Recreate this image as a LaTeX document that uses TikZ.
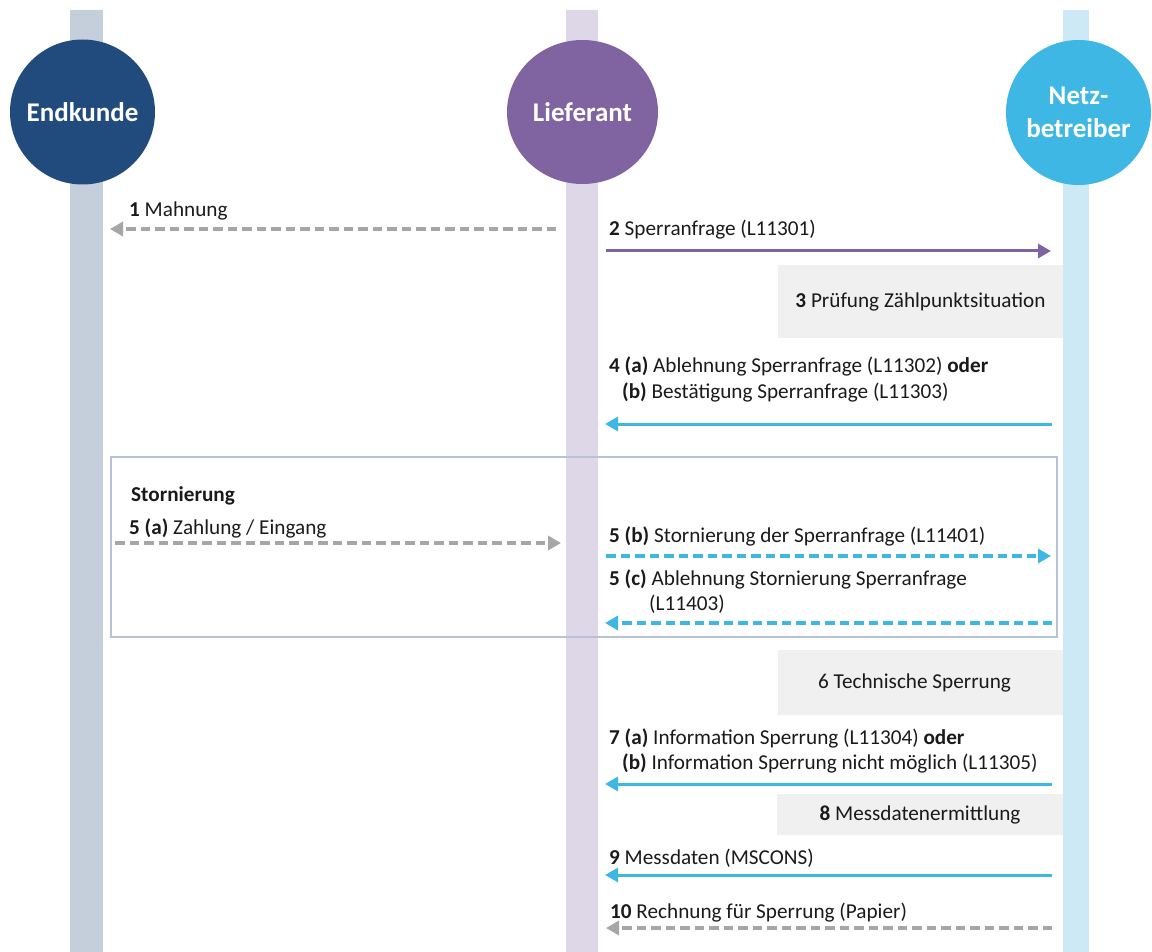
\documentclass[tikz,border=0pt]{standalone}
\usepackage{fontspec}
\setmainfont{Carlito}
\usetikzlibrary{arrows.meta,shapes.geometric}
\definecolor{ekdark}{HTML}{214B7C}
\definecolor{lfpurple}{HTML}{8064A2}
\definecolor{nbblue}{HTML}{3FB7E4}
\definecolor{ekbar}{HTML}{C5CFDC}
\definecolor{lfbar}{HTML}{DED7E8}
\definecolor{nbbar}{HTML}{CDE9F5}
\definecolor{arrgrey}{HTML}{A6A6A6}
\definecolor{boxgrey}{HTML}{F0F0F0}
\definecolor{framecol}{HTML}{B7C2D4}
\definecolor{txt}{HTML}{1A1A1A}
\tikzset{
  x=1pt, y=-1pt,
  actor/.style={circle, minimum size=145pt, inner sep=0pt, text=white,
    font=\fontsize{27}{33}\selectfont\bfseries, align=center},
  lbl/.style={anchor=base west, inner sep=0pt, text=txt, font=\fontsize{21.2}{25}\selectfont},
  stepbox/.style={fill=boxgrey, draw=none},
  msg/.style={line width=3pt, -{Triangle[length=13pt,width=14pt]}},
  dmsg/.style={msg, line width=3.5pt, dash pattern=on 9.5pt off 5pt},
}
\begin{document}
\begin{tikzpicture}
\useasboundingbox (0,0) rectangle (1152,952);
% lifelines
\fill[ekbar] (70,10) rectangle (103,952);
\fill[lfbar] (566,10) rectangle (598,952);
\fill[nbbar] (1063,10) rectangle (1089,952);
% actors
\node[actor, fill=ekdark] (ek) at (82.5,112) {Endkunde};
\node[actor, fill=lfpurple, ellipse, minimum width=151pt, minimum height=144pt] (lf) at (582.5,112) {Lieferant};
\node[actor, fill=nbblue] (nb) at (1078.5,112.5) {Netz-\\betreiber};
% step boxes
\node[stepbox, minimum width=285pt, minimum height=73pt] (s3) at (920.5,301.5) {};
\node[lbl, anchor=center] (t3) at (s3.center) {\textbf{3} Prüfung Zählpunktsituation};
\node[stepbox, minimum width=285pt, minimum height=65pt] (s6) at (920.5,682.5) {};
\node[lbl, anchor=center] (t6) at ([xshift=-6pt]s6.center) {6 Technische Sperrung};
\node[stepbox, minimum width=286pt, minimum height=41pt] (s8) at (920,814.5) {};
\node[lbl, anchor=center] (t8) at (s8.center) {\textbf{8} Messdatenermittlung};
% Stornierung frame
\node[draw=framecol, line width=1.5pt, minimum width=946pt, minimum height=180pt, inner sep=0pt] (frame) at (584,547) {};
% coordinates
\coordinate (a1s) at (556,229);  \coordinate (a1e) at (110,229);
\coordinate (a2s) at (606,251);  \coordinate (a2e) at (1051,251);
\coordinate (a4s) at (1052,424); \coordinate (a4e) at (605,424);
\coordinate (a5as) at (115,543); \coordinate (a5ae) at (561,543);
\coordinate (a5bs) at (606,556); \coordinate (a5be) at (1051,556);
\coordinate (a5cs) at (1052,623); \coordinate (a5ce) at (605,623);
\coordinate (a7s) at (1052,784); \coordinate (a7e) at (605,784);
\coordinate (a9s) at (1052,875); \coordinate (a9e) at (605,875);
\coordinate (a10s) at (1052,928); \coordinate (a10e) at (606,928);
% arrows
\draw[dmsg, arrgrey] (a1s) -- (a1e);
\draw[msg, lfpurple] (a2s) -- (a2e);
\draw[msg, nbblue] (a4s) -- (a4e);
\draw[dmsg, arrgrey] (a5as) -- (a5ae);
\draw[dmsg, nbblue] (a5bs) -- (a5be);
\draw[dmsg, nbblue] (a5cs) -- (a5ce);
\draw[msg, nbblue] (a7s) -- (a7e);
\draw[msg, nbblue] (a9s) -- (a9e);
\draw[dmsg, arrgrey] (a10s) -- (a10e);
% labels
\node[lbl] (l1) at (129,217) {\textbf{1} Mahnung};
\node[lbl] (l2) at (609,236) {\textbf{2} Sperranfrage (L11301)};
\node[lbl] (l4a) at (609,372) {\textbf{4 (a)} Ablehnung Sperranfrage (L11302) \textbf{oder}};
\node[lbl] (l4b) at (622,398) {\textbf{(b)} Bestätigung Sperranfrage (L11303)};
\node[lbl, font=\fontsize{21.2}{25}\selectfont\bfseries] (lst) at (131,501) {Stornierung};
\node[lbl] (l5a) at (129,534) {\textbf{5 (a)} Zahlung / Eingang};
\node[lbl] (l5b) at (609,542) {\textbf{5 (b)} Stornierung der Sperranfrage (L11401)};
\node[lbl] (l5c) at (609,585) {\textbf{5 (c)} Ablehnung Stornierung Sperranfrage};
\node[lbl] (l5c2) at (649,610) {(L11403)};
\node[lbl] (l7a) at (609,744) {\textbf{7 (a)} Information Sperrung (L11304) \textbf{oder}};
\node[lbl] (l7b) at (622,769) {\textbf{(b)} Information Sperrung nicht möglich (L11305)};
\node[lbl] (l9) at (609,864) {\textbf{9} Messdaten (MSCONS)};
\node[lbl] (l10) at (610,918) {\textbf{10} Rechnung für Sperrung (Papier)};
\end{tikzpicture}
\end{document}
